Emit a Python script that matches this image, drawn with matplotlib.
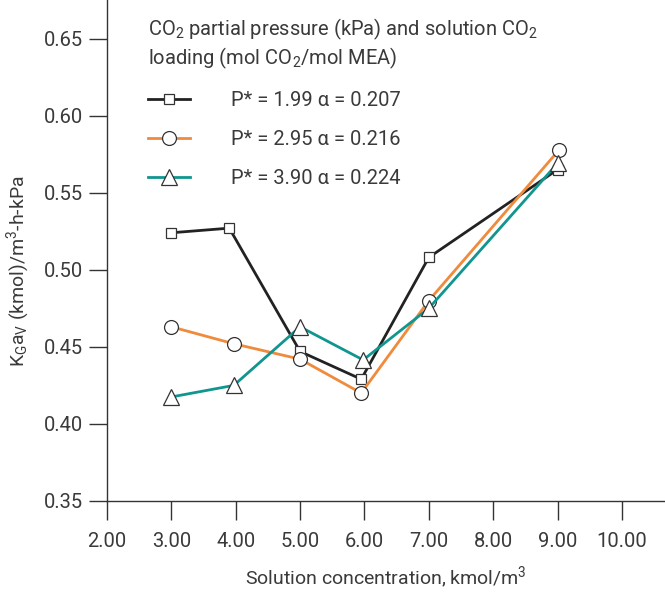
import matplotlib
matplotlib.use("Agg")
import matplotlib.pyplot as plt

plt.rcParams['font.family'] = ['Roboto', 'DejaVu Sans']
plt.rcParams['mathtext.fontset'] = 'custom'
plt.rcParams['mathtext.rm'] = 'Roboto'
plt.rcParams['mathtext.it'] = 'Roboto'
plt.rcParams['mathtext.default'] = 'rm'

TXT = '#3a3a3a'

x_black = [3.0, 3.9, 5.0, 5.95, 7.0, 9.0]
y_black = [0.524, 0.527, 0.447, 0.429, 0.508, 0.565]
x_orange = [3.0, 3.97, 5.0, 5.95, 7.0, 9.03]
y_orange = [0.463, 0.452, 0.442, 0.420, 0.480, 0.578]
x_teal = [3.0, 3.97, 5.0, 5.98, 7.0, 9.0]
y_teal = [0.4175, 0.425, 0.463, 0.4415, 0.475, 0.569]

labels = ['P* = 1.99 α = 0.207', 'P* = 2.95 α = 0.216', 'P* = 3.90 α = 0.224']
xticks = [2, 3, 4, 5, 6, 7, 8, 9, 10]
yticks = [0.35, 0.40, 0.45, 0.50, 0.55, 0.60, 0.65]

fig = plt.figure(figsize=(6.65, 5.93), dpi=100)
ax = fig.add_axes([107/665, 92/593, 558/665, 501/593])

ax.plot(x_black, y_black, color='#222222', lw=2.0, marker='s', ms=6.5,
        mfc='white', mec='#333333', mew=0.9, label=labels[0], zorder=3)
ax.plot(x_orange, y_orange, color='#F08A3C', lw=2.0, marker='o', ms=10,
        mfc='white', mec='#333333', mew=0.9, label=labels[1], zorder=3)
ax.plot(x_teal, y_teal, color='#11968F', lw=2.0, marker='^', ms=11,
        mfc='white', mec='#333333', mew=0.9, label=labels[2], zorder=3)

ax.set_xlim(2, 10.67)
ax.set_ylim(0.35, 0.675)
ax.set_xticks(xticks)
ax.set_xticklabels([f'{v:.2f}' for v in xticks])
ax.set_yticks(yticks)
ax.set_yticklabels([f'{v:.2f}' for v in yticks])

for s in ['top', 'right']:
    ax.spines[s].set_visible(False)
for s in ['left', 'bottom']:
    ax.spines[s].set_color('#333333')
    ax.spines[s].set_linewidth(1.0)
ax.tick_params(axis='x', direction='out', length=14, width=1.0, color='#333333',
               labelsize=14.5, labelcolor=TXT, pad=8)
ax.tick_params(axis='y', direction='out', length=13, width=1.0, color='#333333',
               labelsize=14.5, labelcolor=TXT, pad=4)

ax.set_xlabel(r'Solution concentration, kmol/m$^3$', fontsize=14, color=TXT, labelpad=10)
ax.set_ylabel(r'K$_G$a$_V$ (kmol)/m$^3$-h-kPa', fontsize=14, color=TXT)
ax.yaxis.set_label_coords(-0.135, 0.46)

leg = ax.legend(loc='upper left', bbox_to_anchor=(148/665, 1 - 17/593),
                bbox_transform=fig.transFigure, frameon=False,
                title='CO$_2$ partial pressure (kPa) and solution CO$_2$\nloading (mol CO$_2$/mol MEA)',
                fontsize=14.5, title_fontsize=14.5, numpoints=1,
                handlelength=2.1, handletextpad=2.0, labelspacing=1.0,
                borderpad=0, borderaxespad=0)
leg._legend_box.align = 'left'
leg._legend_box.sep = 14
leg.get_title().set_color(TXT)
for t in leg.get_texts():
    t.set_color(TXT)

fig.savefig('out.png', dpi=100)
